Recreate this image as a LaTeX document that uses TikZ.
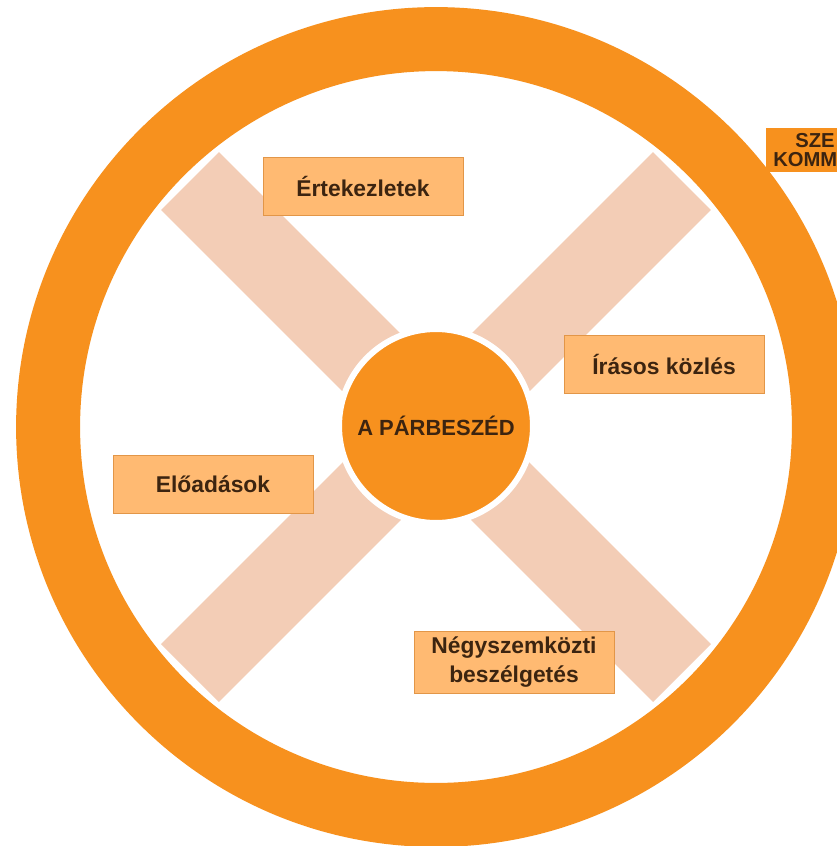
\documentclass[tikz,border=0pt]{standalone}
\usepackage{fontspec}
\setmainfont{Liberation Sans}
\usetikzlibrary{positioning}

\definecolor{ringorange}{RGB}{247,145,30}
\definecolor{spokepeach}{RGB}{243,205,182}
\definecolor{boxfill}{RGB}{255,186,114}
\definecolor{boxline}{RGB}{226,150,72}
\definecolor{inkbrown}{RGB}{60,36,16}

\begin{document}
\begin{tikzpicture}[x=0.02cm, y=-0.02cm,
                ring/.style={draw=ringorange, line width=1.28cm},
                spoke/.style={draw=spokepeach, line width=1.64cm},
                hub/.style={circle, fill=ringorange, draw=white, line width=0.12cm,
                           minimum size=3.88cm, inner sep=0pt, text=inkbrown,
                           font=\bfseries\fontsize{12.5}{15}\selectfont},
                channel/.style={draw=boxline, fill=boxfill, thin, minimum width=4cm,
                           minimum height=1.16cm, align=center, text=inkbrown,
                           font=\bfseries\fontsize{13}{16.5}\selectfont},
                tag/.style={fill=ringorange, text width=3.1cm, minimum height=0.88cm,
                           inner xsep=0.14cm, inner ysep=2pt, align=left, text=inkbrown,
                           font=\bfseries\fontsize{11.5}{11}\selectfont}]

                \useasboundingbox[fill=white] (0,0) rectangle (837,846);

                % outer ring
                \coordinate (c) at (436,427);
                \draw[ring] (c) circle[radius=7.76cm];

                % the two crossing spokes
                \coordinate (nw) at (190,181);
                \coordinate (se) at (682,673);
                \coordinate (ne) at (682,181);
                \coordinate (sw) at (190,673);
                \draw[spoke] (nw) -- (se);
                \draw[spoke] (ne) -- (sw);

                % centre circle
                \node[hub] (hub) at (436,426) {A PÁRBESZÉD};

                % the four channels
                \node[channel] (meet) at (363,186) {Értekezletek};
                \node[channel] (written) at (664,364) {Írásos közlés};
                \node[channel] (talks) at (213,484) {Előadások};
                \node[channel] (private) at (514,662) {Négyszemközti\\beszélgetés};

                % box cut off at the right edge
                \node[tag, anchor=west] (org) at (766,150) {\hspace*{0.44cm}SZE\\KOMM};
            \end{tikzpicture}
\end{document}
